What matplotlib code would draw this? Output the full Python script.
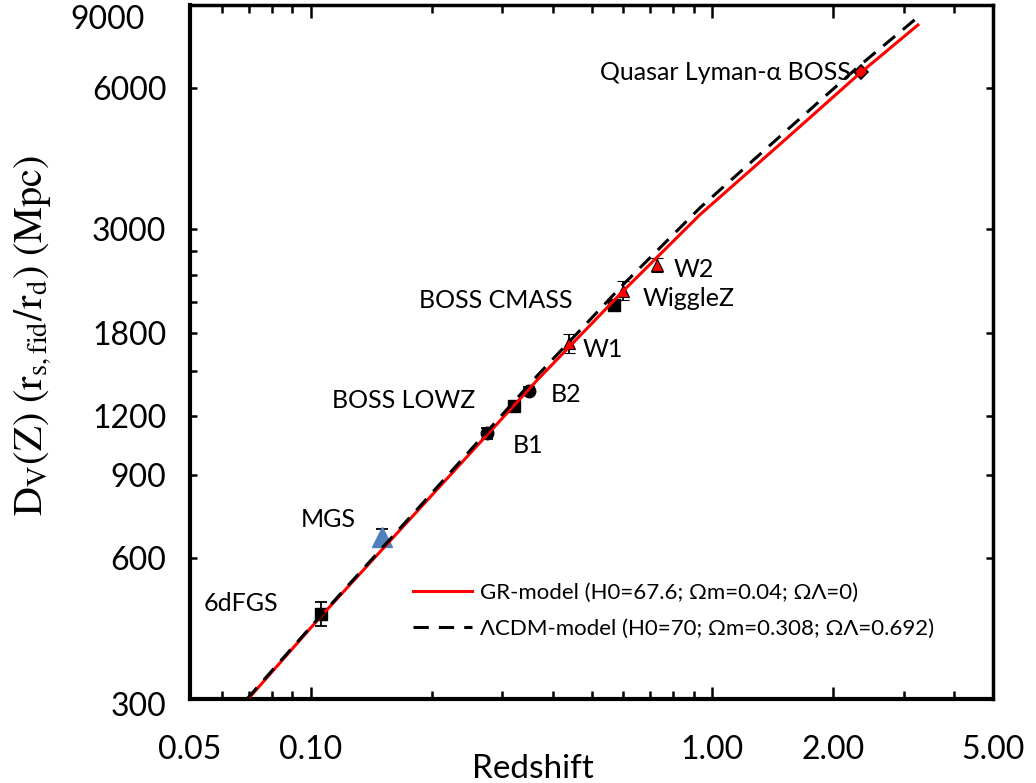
import matplotlib
matplotlib.use("Agg")
import matplotlib.pyplot as plt
from matplotlib.ticker import FixedLocator, NullFormatter, FixedFormatter

plt.rcParams["font.family"] = ["Lato", "DejaVu Sans"]
plt.rcParams["mathtext.fontset"] = "stix"

# ---- data ----
sq_z = [0.106, 0.32, 0.57]          # 6dFGS, BOSS LOWZ, BOSS CMASS
sq_d = [456, 1264, 2070]
sq_err = [27, 25, 20]

circ_z = [0.275, 0.35]              # B1, B2
circ_d = [1104, 1356]
circ_err = [30, 25]

tri_z = [0.44, 0.60, 0.73]          # W1, WiggleZ, W2
tri_d = [1716, 2221, 2516]
tri_err = [83, 101, 86]

mgs_z = [0.15]
mgs_d = [664]
mgs_err = [25]

lya_z = [2.34]
lya_d = [6480]

gr_z = [0.0698, 0.104, 0.195, 0.366, 0.597, 0.931, 1.53, 2.32, 3.25]
gr_d = [300, 442, 795, 1431, 2208, 3220, 4680, 6420, 8160]

lcdm_z = [0.0693, 0.104, 0.195, 0.366, 0.597, 0.931, 1.53, 2.32, 3.19]
lcdm_d = [300, 444, 803, 1462, 2278, 3330, 4865, 6675, 8370]

labels = ["6dFGS", "MGS", "B1", "BOSS LOWZ", "B2", "W1", "BOSS CMASS",
          "WiggleZ", "W2", "Quasar Lyman-\u03b1 BOSS"]
label_z = [0.106, 0.15, 0.275, 0.32, 0.35, 0.44, 0.57, 0.60, 0.73, 2.34]
label_d = [456, 664, 1104, 1264, 1356, 1716, 2070, 2221, 2516, 6480]

ytick_vals = [300, 600, 900, 1200, 1800, 3000, 6000, 9000]
ytick_labels = ["", "600", "900", "1200", "1800", "3000", "6000", ""]
ytick_minor = [1500, 2100, 2400, 2700]
xtick_vals = [0.05, 0.10, 1.00, 2.00, 5.00]
xtick_labels = ["0.05", "0.10", "1.00", "2.00", "5.00"]

# ---- figure ----
fig = plt.figure(figsize=(10.36, 7.83), dpi=100)
ax = fig.add_axes([0.1834, 0.1073, 0.7751, 0.8863])
ax.set_xscale("log")
ax.set_yscale("log")
ax.set_xlim(0.05, 5.0)
ax.set_ylim(300, 9000)

ebkw = dict(ecolor="black", elinewidth=1.3, capsize=4, capthick=1.3, linestyle="none", zorder=3)
ax.errorbar(sq_z, sq_d, yerr=sq_err, marker="s", ms=8, mfc="black", mec="black", **ebkw)
ax.errorbar(circ_z, circ_d, yerr=circ_err, marker="o", ms=9, mfc="black", mec="black", **ebkw)
ax.errorbar(tri_z, tri_d, yerr=tri_err, marker="^", ms=9, mfc="red", mec="black", mew=0.8, **ebkw)
ax.errorbar(mgs_z, mgs_d, yerr=mgs_err, marker="^", ms=14, mfc="#4f81bd", mec="#4f81bd", **ebkw)
ax.plot(lya_z, lya_d, marker="D", ms=7, mfc="red", mec="black", mew=1.2, linestyle="none", zorder=3)

ax.plot(gr_z, gr_d, color="red", lw=2.2, zorder=4,
        label="GR-model (H0=67.6; \u03a9m=0.04; \u03a9\u039b=0)")
ax.plot(lcdm_z, lcdm_d, color="black", lw=2.2, dashes=(5, 3.3), zorder=4,
        label="\u039bCDM-model (H0=70; \u03a9m=0.308; \u03a9\u039b=0.692)")

# annotation offsets in pixels (dx, dy) and alignment
offsets = [(-43, 10, "right"), (-26, 17, "right"), (25, -12, "left"),
           (-38, 5, "right"), (21, -3, "left"), (13, -6, "left"),
           (-42, 4, "right"), (19, -8, "left"), (16, -4, "left"),
           (-10, 0, "right")]
for txt, z, d, (dx, dy, ha) in zip(labels, label_z, label_d, offsets):
    ax.annotate(txt, (z, d), xytext=(dx, dy), textcoords="offset pixels",
                ha=ha, va="center", fontsize=18)

leg = ax.legend(loc="upper left", bbox_to_anchor=(0.2777, 0.168), frameon=False,
                fontsize=16, handlelength=2.66, handletextpad=0.36,
                labelspacing=0.75, borderpad=0, borderaxespad=0)

# axes styling
for side in ["left", "bottom"]:
    ax.spines[side].set_linewidth(3)
for side in ["top", "right"]:
    ax.spines[side].set_linewidth(2.5)

ax.yaxis.set_major_locator(FixedLocator(ytick_vals))
ax.yaxis.set_major_formatter(FixedFormatter(ytick_labels))
ax.yaxis.set_minor_locator(FixedLocator(ytick_minor))
ax.yaxis.set_minor_formatter(NullFormatter())
ax.xaxis.set_major_locator(FixedLocator(xtick_vals))
ax.xaxis.set_major_formatter(FixedFormatter(xtick_labels))
ax.xaxis.set_minor_formatter(NullFormatter())

ax.tick_params(axis="both", which="both", direction="in", top=True, right=True,
               labelsize=23, width=1.8, colors="black")
ax.tick_params(axis="y", which="minor", right=False)
ax.tick_params(axis="x", which="major", length=9, pad=26)
ax.tick_params(axis="x", which="minor", length=6)
ax.tick_params(axis="y", which="both", length=5, pad=17)

# end labels of the y axis sit off their ticks in the original
ax.annotate("9000", xy=(0, 9000), xycoords=("axes fraction", "data"),
            xytext=(-45, -15), textcoords="offset pixels",
            ha="right", va="center", fontsize=23)
ax.annotate("300", xy=(0, 300), xycoords=("axes fraction", "data"),
            xytext=(-24, -8), textcoords="offset pixels",
            ha="right", va="center", fontsize=23)

ax.set_xlabel("Redshift", fontsize=24)
ax.xaxis.set_label_coords(0.427, -0.079)
fig.text(0.032, 0.572, r"$\mathrm{D_V(Z)\ (r_{s,fid}/r_d)\ (Mpc)}$",
         rotation=90, ha="center", va="center", fontsize=29)

fig.savefig("out.png", dpi=100)
